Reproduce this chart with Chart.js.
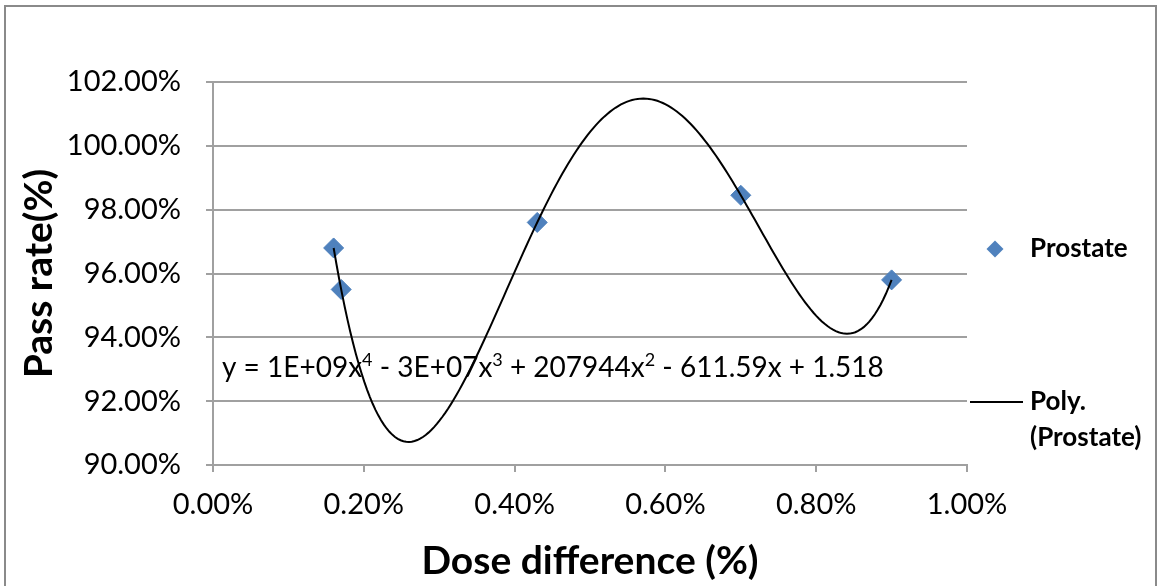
<!DOCTYPE html>
<html lang="en">
<head>
<meta charset="UTF-8">
<title>Pass rate vs dose difference</title>
<script src="https://cdn.jsdelivr.net/npm/chart.js"></script>
<style>
  * { margin: 0; padding: 0; box-sizing: border-box; }
  html, body { width: 1157px; height: 586px; background: #fff; overflow: hidden; }
  .frame { position: absolute; left: 4px; top: 5px; width: 1153px; height: 620px; border: 2px solid #8a8a8a; }
  .wrap { position: absolute; left: 0; top: 0; width: 1157px; height: 586px; }
</style>
</head>
<body>
<div class="frame"></div>
<div class="wrap"><canvas id="chart"></canvas></div>
<script>
// measured points (both axes in %)
const doseDiff = [0.16, 0.17, 0.43, 0.70, 0.90];
const passRate = [96.8, 95.5, 97.6, 98.45, 95.8];

const xTicks = [0, 0.2, 0.4, 0.6, 0.8, 1.0];
const yTicks = [90, 92, 94, 96, 98, 100, 102];

const seriesName = 'Prostate';
const trendName = 'Poly. (Prostate)';
const trendOrder = 4;

// trendline equation label, every second piece is a superscript
const eqParts = ['y = 1E+09x', '4', ' - 3E+07x', '3', ' + 207944x', '2', ' - 611.59x + 1.518'];

const FONT = 'Lato';
const GRID = '#a0a0a0';

// least squares polynomial, coefficients low -> high
function polyFit(xs, ys, order) {
  const n = order + 1;
  const A = Array.from({ length: n }, () => new Array(n + 1).fill(0));
  for (let i = 0; i < xs.length; i++) {
    for (let r = 0; r < n; r++) {
      for (let c = 0; c < n; c++) A[r][c] += Math.pow(xs[i], r + c);
      A[r][n] += ys[i] * Math.pow(xs[i], r);
    }
  }
  for (let k = 0; k < n; k++) {
    let p = k;
    for (let r = k + 1; r < n; r++) if (Math.abs(A[r][k]) > Math.abs(A[p][k])) p = r;
    [A[k], A[p]] = [A[p], A[k]];
    for (let r = k + 1; r < n; r++) {
      const f = A[r][k] / A[k][k];
      for (let c = k; c <= n; c++) A[r][c] -= f * A[k][c];
    }
  }
  const coef = new Array(n).fill(0);
  for (let k = n - 1; k >= 0; k--) {
    let s = A[k][n];
    for (let c = k + 1; c < n; c++) s -= A[k][c] * coef[c];
    coef[k] = s / A[k][k];
  }
  return coef;
}

const coef = polyFit(doseDiff, passRate, trendOrder);
const evalPoly = x => coef.reduce((acc, c, i) => acc + c * Math.pow(x, i), 0);

const xLo = Math.min(...doseDiff), xHi = Math.max(...doseDiff);
const trendPts = [];
for (let i = 0; i <= 200; i++) {
  const x = xLo + (xHi - xLo) * i / 200;
  trendPts.push({ x: x, y: evalPoly(x) });
}

const scatterPts = doseDiff.map((x, i) => ({ x: x, y: passRate[i] }));
const pct = v => Number(v).toFixed(2) + '%';

// equation text + legend at the right
const notes = {
  id: 'notes',
  afterDraw(chart) {
    const ctx = chart.ctx;
    ctx.save();
    ctx.fillStyle = '#000';
    ctx.textBaseline = 'alphabetic';
    ctx.textAlign = 'left';
    let x = 222;
    const base = 377;
    eqParts.forEach((t, i) => {
      const sup = i % 2 === 1;
      ctx.font = (sup ? '18px ' : '28px ') + FONT;
      ctx.fillText(t, x, sup ? base - 11 : base);
      x += ctx.measureText(t).width;
    });

    // legend
    const ds = chart.data.datasets;
    ctx.textBaseline = 'middle';
    ctx.font = 'bold 26px ' + FONT;
    const scatterDs = ds.find(d => d.label === seriesName);
    ctx.fillStyle = scatterDs.backgroundColor;
    const cx = 995, cy = 249, r = 8.5;
    ctx.beginPath();
    ctx.moveTo(cx, cy - r); ctx.lineTo(cx + r, cy); ctx.lineTo(cx, cy + r); ctx.lineTo(cx - r, cy);
    ctx.closePath();
    ctx.fill();
    ctx.fillStyle = '#000';
    ctx.fillText(seriesName, 1030, cy);

    const trendDs = ds.find(d => d.label === trendName);
    ctx.strokeStyle = trendDs.borderColor;
    ctx.lineWidth = 2;
    ctx.beginPath();
    ctx.moveTo(970, 402); ctx.lineTo(1023, 402);
    ctx.stroke();
    trendName.split(' ').forEach((line, i) => ctx.fillText(line, 1030, 402 + i * 36));
    ctx.restore();
  }
};

new Chart(document.getElementById('chart'), {
  type: 'scatter',
  data: {
    datasets: [
      {
        label: trendName,
        type: 'line',
        data: trendPts,
        borderColor: '#000',
        borderWidth: 2,
        pointRadius: 0,
        tension: 0,
        order: 0
      },
      {
        label: seriesName,
        data: scatterPts,
        pointStyle: 'rectRot',
        pointRadius: 10,
        pointHoverRadius: 10,
        backgroundColor: '#4F81BD',
        borderColor: '#4A7EBB',
        borderWidth: 1,
        order: 1
      }
    ]
  },
  options: {
    responsive: true,
    maintainAspectRatio: false,
    animation: false,
    layout: { padding: { left: 0, top: 82, right: 190, bottom: 0 } },
    plugins: {
      legend: { display: false },
      tooltip: { enabled: false }
    },
    scales: {
      x: {
        type: 'linear',
        min: xTicks[0],
        max: xTicks[xTicks.length - 1],
        afterBuildTicks(s) { s.ticks = xTicks.map(v => ({ value: v })); },
        afterFit(s) { s.height = 121; },
        grid: { drawOnChartArea: false, color: GRID, lineWidth: 2, tickLength: 7 },
        border: { color: GRID, width: 2 },
        ticks: { color: '#000', font: { family: FONT, size: 29 }, padding: 15, maxRotation: 0, callback: pct },
        title: {
          display: true, text: 'Dose difference (%)', color: '#000',
          font: { family: FONT, size: 39, weight: 'bold' }, padding: { bottom: 1 }
        }
      },
      y: {
        min: yTicks[0],
        max: yTicks[yTicks.length - 1],
        afterBuildTicks(s) { s.ticks = yTicks.map(v => ({ value: v })); },
        afterFit(s) { s.width = 213; },
        grid: { color: GRID, lineWidth: 2, tickLength: 7 },
        border: { color: GRID, width: 2 },
        ticks: { color: '#000', font: { family: FONT, size: 29 }, padding: 25, callback: pct },
        title: {
          display: true, text: 'Pass rate(%)', color: '#000',
          font: { family: FONT, size: 39, weight: 'bold' }, padding: { top: 16 }
        }
      }
    }
  },
  plugins: [notes]
});
</script>
</body>
</html>
